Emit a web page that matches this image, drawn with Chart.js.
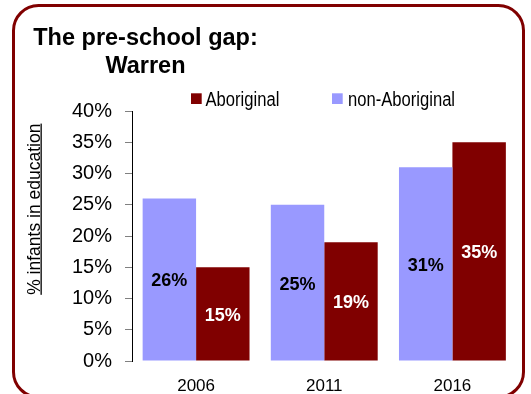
<!DOCTYPE html>
<html>
<head>
<meta charset="utf-8">
<script src="https://cdn.jsdelivr.net/npm/chart.js@4/dist/chart.umd.min.js"></script>
<style>
  html, body { margin: 0; padding: 0; background: #fff; overflow: hidden; }
  #wrap { position: relative; width: 531px; height: 394px; }
</style>
</head>
<body>
<div id="wrap"><canvas id="chart" width="531" height="394"></canvas></div>
<script>
// Census years and share of infants enrolled in pre-school (%)
const years = ['2006', '2011', '2016'];
const nonAboriginal = [26, 25, 31];
const aboriginal = [15, 19, 35];
const yTickLabels = ['0%', '5%', '10%', '15%', '20%', '25%', '30%', '35%', '40%'];
const titleLines = ['The pre-school gap:', 'Warren'];
const yAxisTitle = '% infants in education';

const FONT = '"Liberation Sans", Arial, Helvetica, sans-serif';
const DARK_RED = '#800000';
const LAVENDER = '#9999FF';

// Frame, title, legend, rotated underlined axis title and in-bar value labels
const decorations = {
  id: 'decorations',
  afterDatasetsDraw(chart) {
    const ctx = chart.ctx;
    ctx.save();
    ctx.font = 'bold 18px ' + FONT;
    ctx.textAlign = 'center';
    ctx.textBaseline = 'middle';
    chart.data.datasets.forEach((ds, di) => {
      const meta = chart.getDatasetMeta(di);
      ctx.fillStyle = ds.labelColor;
      meta.data.forEach((bar, i) => {
        const yMid = (bar.y + bar.base) / 2 + 2;
        ctx.fillText(ds.data[i] + '%', bar.x, yMid);
      });
    });
    ctx.restore();
  },
  afterDraw(chart) {
    const ctx = chart.ctx;
    ctx.save();

    // rounded frame
    ctx.strokeStyle = DARK_RED;
    ctx.lineWidth = 3;
    ctx.beginPath();
    ctx.roundRect(13.5, 5.5, 510, 391.5, 25);
    ctx.stroke();

    // title
    ctx.fillStyle = '#000';
    ctx.font = 'bold 23.5px ' + FONT;
    ctx.textAlign = 'center';
    ctx.textBaseline = 'alphabetic';
    ctx.fillText(titleLines[0], 145.5, 45);
    ctx.fillText(titleLines[1], 145.5, 72.7);

    // legend (Aboriginal first)
    const legendX = { 'Aboriginal': [191, 205.5], 'non-Aboriginal': [332, 348] };
    chart.data.datasets.slice().reverse().forEach(ds => {
      const [bx, tx] = legendX[ds.label];
      ctx.fillStyle = ds.backgroundColor;
      ctx.fillRect(bx, 93.3, 10.7, 10.7);
      ctx.save();
      ctx.fillStyle = '#000';
      ctx.font = '20px ' + FONT;
      ctx.textAlign = 'left';
      ctx.translate(tx, 106);
      ctx.scale(0.83, 1);
      ctx.fillText(ds.label, 0, 0);
      ctx.restore();
    });

    // y axis title, rotated and underlined
    ctx.save();
    ctx.translate(39.5, 209.2);
    ctx.rotate(-Math.PI / 2);
    ctx.font = '17.5px ' + FONT;
    ctx.fillStyle = '#000';
    ctx.textAlign = 'center';
    ctx.textBaseline = 'alphabetic';
    ctx.fillText(yAxisTitle, 0, 0);
    const w = ctx.measureText(yAxisTitle).width;
    ctx.fillRect(-w / 2, 1, w, 1.3);
    ctx.restore();

    ctx.restore();
  }
};

new Chart(document.getElementById('chart'), {
  type: 'bar',
  data: {
    labels: years,
    datasets: [
      { label: 'non-Aboriginal', data: nonAboriginal, backgroundColor: LAVENDER, labelColor: '#000' },
      { label: 'Aboriginal', data: aboriginal, backgroundColor: DARK_RED, labelColor: '#fff' }
    ]
  },
  options: {
    responsive: false,
    animation: false,
    devicePixelRatio: 1,
    datasets: { bar: { categoryPercentage: 0.834, barPercentage: 1.0 } },
    layout: { padding: { left: 72, top: 111, right: 14.5, bottom: 0 } },
    scales: {
      x: {
        grid: { display: false },
        border: { display: false },
        ticks: { color: '#000', font: { family: FONT, size: 17 }, padding: 7 },
        afterFit(scale) { scale.height = 33; }
      },
      y: {
        min: 0,
        max: 40,
        ticks: {
          stepSize: 5,
          color: '#000',
          font: { family: FONT, size: 20 },
          padding: 13,
          callback: (v, i) => yTickLabels[i]
        },
        grid: { drawOnChartArea: false, drawTicks: true, tickLength: 7, color: '#808080' },
        border: { display: true, color: '#000', width: 1 },
        afterFit(scale) { scale.width = 60; }
      }
    },
    plugins: {
      legend: { display: false },
      tooltip: { enabled: false },
      title: { display: false }
    }
  },
  plugins: [decorations]
});
</script>
</body>
</html>
